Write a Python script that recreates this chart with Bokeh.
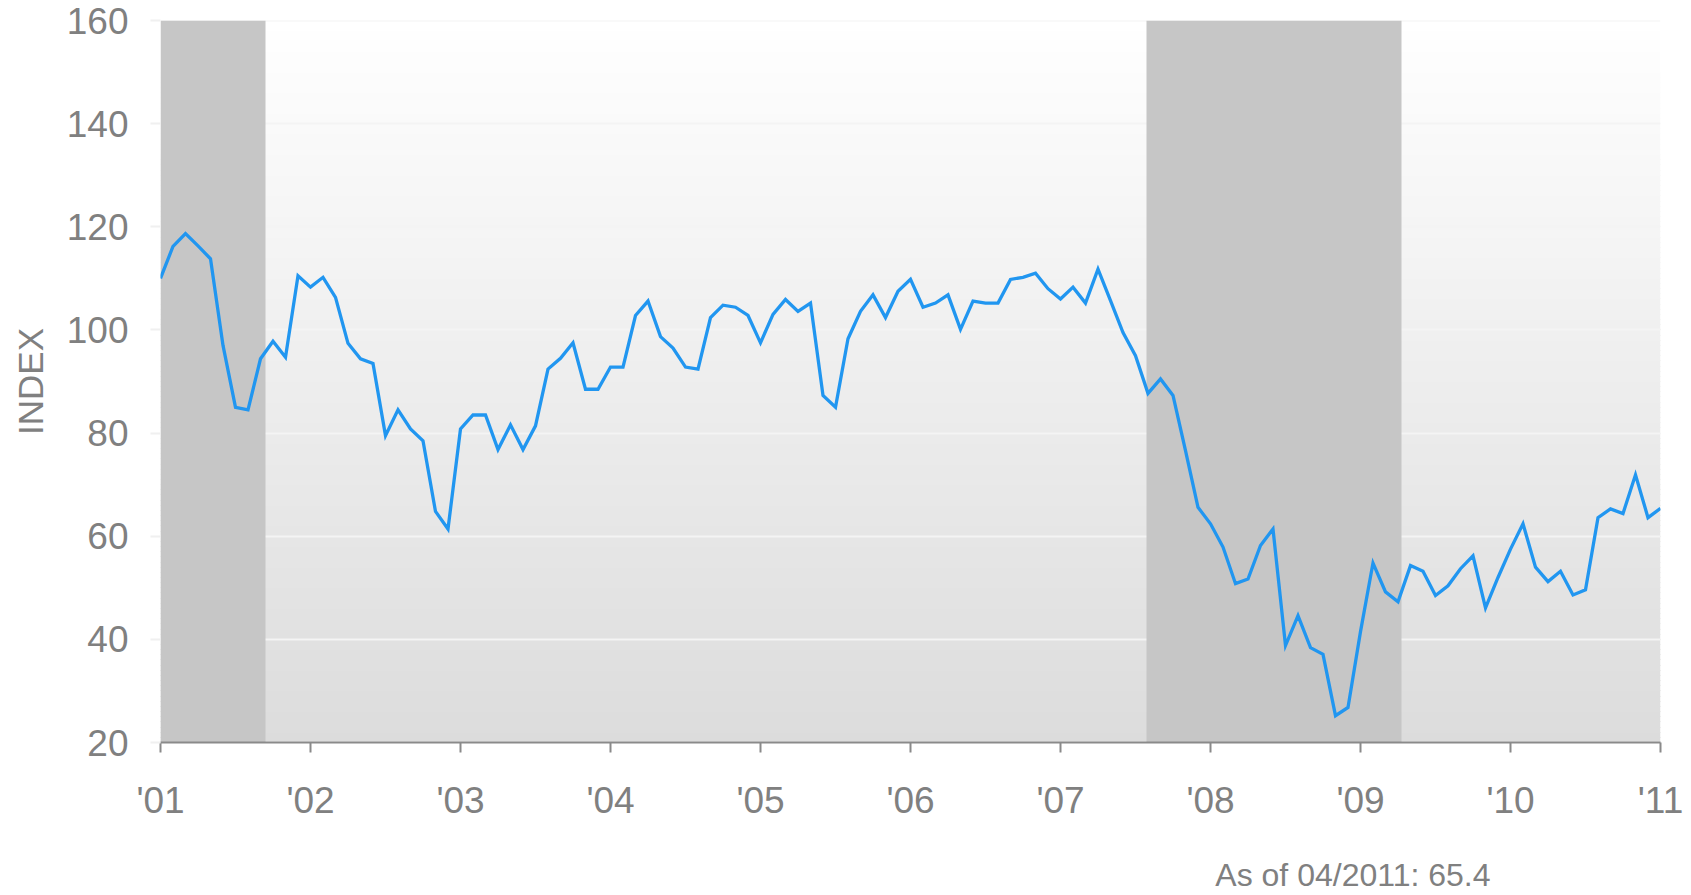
from bokeh.plotting import figure
from bokeh.models import Range1d, FixedTicker, Title
from bokeh.embed import file_html
from bokeh.resources import INLINE

# ---- data ----
start_year = 2001
index_values = [
    110.0, 116.2, 118.7, 116.3, 113.8, 97.0, 85.0, 84.5, 94.4, 97.8, 94.7, 110.5,
    108.3, 110.2, 106.3, 97.4, 94.4, 93.5, 79.5, 84.5, 80.8, 78.5, 64.8, 61.4,
    80.8, 83.5, 83.5, 76.8, 81.6, 76.8, 81.4, 92.4, 94.5, 97.5, 88.5, 88.5,
    92.8, 92.8, 102.8, 105.6, 98.7, 96.5, 92.8, 92.4, 102.4, 104.8, 104.4, 102.8,
    97.5, 103.0, 105.9, 103.6, 105.2, 87.3, 85.0, 98.3, 103.6, 106.8, 102.4, 107.5,
    109.8, 104.4, 105.2, 106.8, 100.1, 105.6, 105.2, 105.2, 109.8, 110.2, 111.0, 108.0,
    106.0, 108.3, 105.2, 111.8, 105.7, 99.5, 95.0, 87.7, 90.5, 87.3, 76.6, 65.6,
    62.4, 57.9, 50.8, 51.7, 58.2, 61.4, 38.8, 44.6, 38.4, 37.1, 25.2, 26.8,
    41.5, 54.8, 49.2, 47.3, 54.3, 53.2, 48.5, 50.4, 53.7, 56.2, 46.1, 52.0,
    57.5, 62.4, 54.0, 51.2, 53.2, 48.6, 49.6, 63.6, 65.3, 64.4, 71.9, 63.6,
    65.4,
]
recession_start = [2001.0, 2007.57]
recession_end = [2001.70, 2009.27]
year_ticks = [2001, 2002, 2003, 2004, 2005, 2006, 2007, 2008, 2009, 2010, 2011]
year_labels = ["'01", "'02", "'03", "'04", "'05", "'06", "'07", "'08", "'09", "'10", "'11"]
y_ticks = [20, 40, 60, 80, 100, 120, 140, 160]
footnote = "As of 04/2011: 65.4"

months = [start_year + i / 12 for i in range(len(index_values))]

FONT = "Liberation Sans"
GRAY = "#808080"

p = figure(width=1691, height=895, output_backend="svg", toolbar_location=None,
           x_range=Range1d(2001, 2011), y_range=Range1d(20, 160),
           min_border_left=160, min_border_right=31, min_border_top=20,
           min_border_bottom=153)
p.outline_line_color = None
p.background_fill_color = "white"
p.border_fill_color = "white"
p.xgrid.grid_line_color = None
p.ygrid.grid_line_color = None

# vertical gradient background (white -> light gray)
n = 140
y0s, y1s, cols = [], [], []
for k in range(n):
    a = 20 + 140 * k / n
    b = 20 + 140 * (k + 1) / n
    t = 1 - (k + 0.5) / n  # 1 at bottom, 0 at top
    c = int(round(255 - t * (255 - 220)))
    y0s.append(a)
    y1s.append(b)
    cols.append("#%02x%02x%02x" % (c, c, c))
p.hstrip(y0=y0s, y1=y1s, fill_color=cols, line_color=cols, line_width=1)

# grid lines
p.hspan(y=y_ticks, line_color="#f4f4f4", line_width=2)

# recession bands
p.vstrip(x0=recession_start, x1=recession_end, fill_color="#c6c6c6", line_color=None)

# series
p.line(months, index_values, line_color="#2196f0", line_width=3.3, line_join="miter")

# axes
xa = p.xaxis[0]
xa.ticker = FixedTicker(ticks=year_ticks)
xa.major_label_overrides = {t: l for t, l in zip(year_ticks, year_labels)}
xa.axis_line_color = "#8a8a8a"
xa.axis_line_width = 2
xa.major_tick_line_color = "#8a8a8a"
xa.major_tick_line_width = 2
xa.major_tick_out = 10
xa.major_tick_in = 0
xa.minor_tick_line_color = None
xa.major_label_text_font = FONT
xa.major_label_text_font_size = "37px"
xa.major_label_text_color = GRAY
xa.major_label_standoff = 27

ya = p.yaxis[0]
ya.ticker = FixedTicker(ticks=y_ticks)
ya.axis_line_color = None
ya.major_tick_line_color = "#f0f0f0"
ya.major_tick_line_width = 2
ya.major_tick_out = 10
ya.major_tick_in = 0
ya.minor_tick_line_color = None
ya.major_label_text_font = FONT
ya.major_label_text_font_size = "37px"
ya.major_label_text_color = GRAY
ya.major_label_standoff = 22
ya.axis_label = "INDEX"
ya.axis_label_text_font = FONT
ya.axis_label_text_font_size = "35px"
ya.axis_label_text_font_style = "normal"
ya.axis_label_text_color = GRAY
ya.axis_label_standoff = 14

# footnote below the x axis (leading empty line pushes it down)
note = Title(text="\n" + footnote, align="right", offset=170, text_font=FONT,
             text_font_size="32px", text_font_style="normal", text_color=GRAY,
             text_line_height=0.93, vertical_align="top", standoff=0)
p.add_layout(note, "below")

open("out.html", "w").write(file_html(p, INLINE))
